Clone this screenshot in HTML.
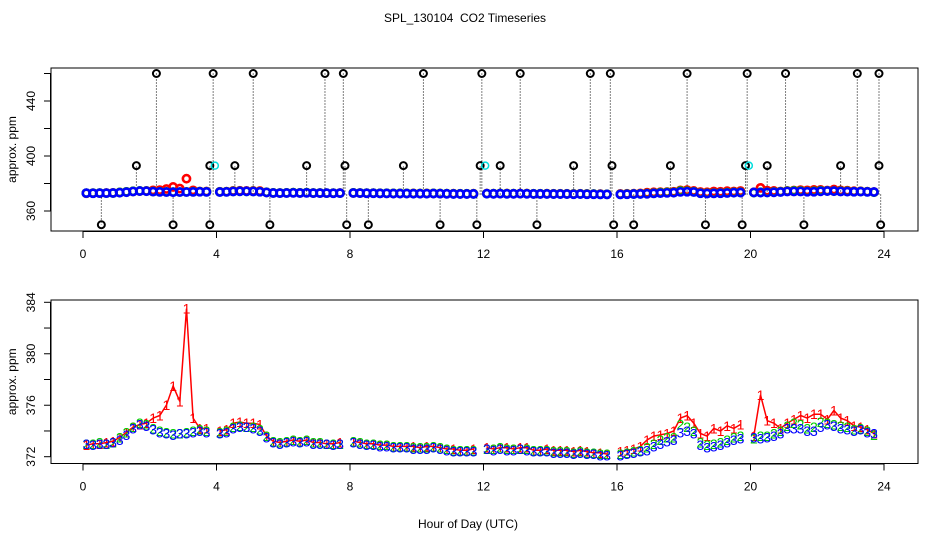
<!DOCTYPE html>
<html><head><meta charset="utf-8">
<style>
html,body{margin:0;padding:0;background:#fff;}
svg{display:block;font-family:"Liberation Sans",Arial,sans-serif;}
</style></head>
<body>
<svg id="chart" width="936" height="540" viewBox="0 0 936 540" xmlns="http://www.w3.org/2000/svg">
<rect width="936" height="540" fill="#fff"/>
<text x="465" y="22" font-size="12" text-anchor="middle">SPL_130104&#160;&#160;CO2 Timeseries</text>
<text x="468" y="528" font-size="12" text-anchor="middle">Hour of Day (UTC)</text>
<g id="top"></g>
<g id="bot"></g>
</svg>
<script>
// ---- data ----
const startHour = 0.1, stepHour = 0.2;
const xTicks = [0,4,8,12,16,20,24];
const topYTicks = [360,380,400,420,440,460];
const topYLabels = [360,400,440];
const botYTicks = [372,374,376,378,380,382,384];
const botYLabels = [372,376,380,384];
const blue = [373.0,372.9,373.0,373.0,373.1,373.3,373.7,374.2,374.5,374.4,374.1,373.9,373.8,373.7,373.8,373.8,373.9,374.0,373.9,null,
373.8,373.9,374.2,374.3,374.3,374.2,374.0,373.5,373.1,373.0,373.1,373.2,373.1,373.2,373.0,373.0,373.0,372.9,373.0,null,
373.1,373.0,372.9,372.9,372.8,372.8,372.7,372.7,372.7,372.6,372.6,372.6,372.7,372.6,372.5,372.4,372.4,372.4,372.4,null,
372.6,372.5,372.6,372.5,372.5,372.6,372.5,372.4,372.4,372.4,372.3,372.3,372.3,372.2,372.3,372.2,372.2,372.1,372.1,null,
372.1,372.2,372.3,372.4,372.5,372.8,373.0,373.2,373.3,373.9,374.0,373.8,372.9,372.7,372.8,372.9,373.1,373.3,373.4,null,
373.5,373.4,373.5,373.6,373.8,374.2,374.2,374.2,374.0,374.0,374.3,374.5,374.4,374.2,374.1,374.0,374.1,373.9,373.8];
const green = [373.0,373.0,373.1,373.0,373.1,373.5,373.9,374.3,374.6,374.5,374.2,374.0,373.9,373.8,373.8,373.9,374.0,374.1,374.0,null,
373.9,374.0,374.3,374.4,374.3,374.3,374.1,373.6,373.2,373.1,373.2,373.3,373.2,373.3,373.1,373.1,373.0,373.0,373.0,null,
373.2,373.1,373.0,373.0,372.9,372.9,372.8,372.8,372.8,372.7,372.7,372.7,372.8,372.7,372.6,372.5,372.5,372.5,372.5,null,
372.6,372.6,372.7,372.6,372.6,372.6,372.6,372.5,372.5,372.5,372.4,372.4,372.4,372.3,372.4,372.3,372.3,372.2,372.2,null,
372.2,372.3,372.4,372.5,372.7,373.0,373.3,373.5,373.5,374.5,374.3,374.0,373.1,372.9,373.0,373.1,373.3,373.5,373.6,null,
373.4,373.6,373.6,373.8,374.0,374.4,374.6,374.5,374.2,374.3,374.7,374.6,374.5,374.4,374.3,374.1,374.2,374.0,373.7];
const red = [372.9,373.0,373.0,373.1,373.2,373.5,373.9,374.3,374.5,374.6,375.0,375.2,376.0,377.5,376.3,383.5,375.0,374.2,374.2,null,
374.0,374.1,374.6,374.7,374.6,374.6,374.5,373.6,373.2,373.1,373.2,373.3,373.2,373.3,373.1,373.1,373.0,373.0,373.1,null,
373.2,373.1,373.0,373.0,372.9,372.9,372.8,372.8,372.8,372.8,372.7,372.8,372.8,372.7,372.6,372.6,372.5,372.5,372.6,null,
372.7,372.6,372.7,372.7,372.6,372.7,372.7,372.5,372.5,372.6,372.5,372.5,372.5,372.4,372.5,372.4,372.3,372.3,372.2,null,
372.4,372.5,372.6,372.8,373.3,373.6,373.7,373.8,374.0,375.0,375.2,374.6,373.8,373.6,374.2,374.0,374.4,374.2,374.5,null,
373.6,376.8,374.8,374.6,374.2,374.6,374.9,375.2,375.0,375.3,375.3,374.9,375.6,375.0,374.8,374.4,374.3,374.1,373.8];
const outTimes = [2.2,3.9,5.1,7.25,7.8,10.2,11.95,13.1,15.2,15.8,18.1,19.9,21.05,23.2,23.85,
1.6,3.8,4.55,6.7,7.85,9.6,11.9,12.5,14.7,15.85,17.6,19.85,20.5,22.7,23.85,
0.55,2.7,3.8,5.6,7.9,8.55,10.7,11.8,13.6,15.9,16.5,18.65,19.75,21.6,23.9];
const outValues = [460,460,460,460,460,460,460,460,460,460,460,460,460,460,460,
393,393,393,393,393,393,393,393,393,393,393,393,393,393,393,
350,350,350,350,350,350,350,350,350,350,350,350,350,350,350];
const cyanTimes = [3.95,12.05,19.95];
const cyanValues = [393,393,393];

// ---- scales ----
const NS="http://www.w3.org/2000/svg";
const X0=51,X1=918;
function xs(h){return 83+h*(884-83)/24;}
function yTop(v){return 211-(v-360)*(211-101)/80;}
function yBot(v){return 456.7-(v-372)*(456.7-302.3)/12;}
function mk(parent,tag,attrs){const e=document.createElementNS(NS,tag);for(const k in attrs)e.setAttribute(k,attrs[k]);parent.appendChild(e);return e;}

function frame(g,top,bot,yticks,ylabels,ys,nm){
  const b=mk(g,'rect',{x:X0,y:top,width:X1-X0,height:bot-top,fill:'none',stroke:'#000','stroke-width':1});
  
  
  mk(g,'line',{x1:xs(0),x2:xs(24),y1:bot+0.5,y2:bot+0.5,stroke:'#000'});
  xTicks.forEach(t=>{
    mk(g,'line',{x1:xs(t),x2:xs(t),y1:bot,y2:bot+7,stroke:'#000'});
    const tx=mk(g,'text',{x:xs(t),y:bot+27,'font-size':12,'text-anchor':'middle'});
    tx.textContent=t;
    
    
  });
  mk(g,'line',{x1:X0-0.5,x2:X0-0.5,y1:ys(yticks[0]),y2:ys(yticks[yticks.length-1]),stroke:'#000'});
  yticks.forEach(v=>{mk(g,'line',{x1:X0-7,x2:X0,y1:ys(v),y2:ys(v),stroke:'#000'});});
  ylabels.forEach(v=>{
    const tx=mk(g,'text',{x:0,y:0,'font-size':12,'text-anchor':'middle',transform:`translate(35,${ys(v)}) rotate(-90)`});
    tx.textContent=v;
    
    
  });
  const yl=mk(g,'text',{x:0,y:0,'font-size':12,'text-anchor':'middle',transform:`translate(16,${(top+bot)/2}) rotate(-90)`});
  yl.textContent='approx. ppm';
  
  
}

const gT=document.getElementById('top'), gB=document.getElementById('bot');
frame(gT,68,231,topYTicks,topYLabels,yTop,'top');
frame(gB,300,463.5,botYTicks,botYLabels,yBot,'bottom');

// top: outliers with dotted drop lines
outTimes.forEach((t,i)=>{
  mk(gT,'line',{x1:xs(t),x2:xs(t),y1:yTop(372),y2:yTop(outValues[i]),stroke:'#000','stroke-dasharray':'1,2','stroke-width':1});
});
const series=[[red,'#f00','1'],[green,'#0c0','2'],[blue,'#00f','3']];
series.forEach(([arr,col,ch])=>{
  arr.forEach((v,i)=>{
    if(v===null)return;
    const c=mk(gT,'circle',{cx:xs(startHour+i*stepHour),cy:yTop(v),r:3.6,fill:'none',stroke:col,'stroke-width':2.6});
    
    
  });
});
outTimes.forEach((t,i)=>{
  const c=mk(gT,'circle',{cx:xs(t),cy:yTop(outValues[i]),r:3.5,fill:'none',stroke:'#000','stroke-width':2});
  
  
});
cyanTimes.forEach((t,i)=>{
  const c=mk(gT,'circle',{cx:xs(t),cy:yTop(cyanValues[i]),r:3.5,fill:'none',stroke:'#0dd','stroke-width':1.5});
  
  
});

// bottom: red connecting trace
(function(){
  let d='';let pen=false;
  red.forEach((v,i)=>{
    if(v===null){pen=false;return;}
    d+=(pen?'L':'M')+xs(startHour+i*stepHour).toFixed(1)+' '+yBot(v).toFixed(1);pen=true;
  });
  const p=mk(gB,'path',{d:d,fill:'none',stroke:'#f00','stroke-width':1.5});
  
  
})();
// bottom: glyph series
series.forEach(([arr,col,ch])=>{
  arr.forEach((v,i)=>{
    if(v===null)return;
    const t=mk(gB,'text',{x:xs(startHour+i*stepHour),y:yBot(v)+5,'font-size':14,'text-anchor':'middle',fill:col});
    t.textContent=ch;
    
    
  });
});
</script>
</body></html>
